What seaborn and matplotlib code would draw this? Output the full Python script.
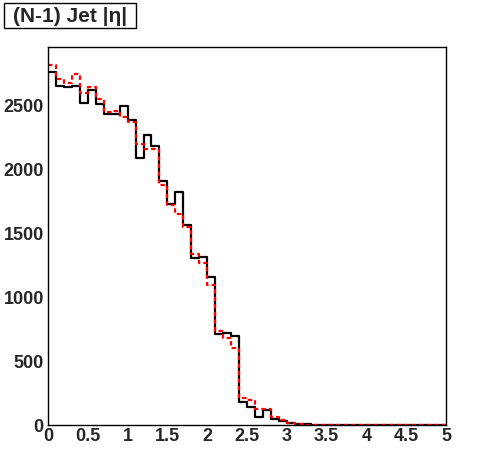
import numpy as np
import pandas as pd
import matplotlib
matplotlib.use("Agg")
import matplotlib.pyplot as plt
from matplotlib.patches import Rectangle
import seaborn as sns

# bin edges (0..5, width 0.1)
bin_edges = np.round(np.arange(0, 5.0001, 0.1), 2)
bin_centers = np.round((bin_edges[:-1] + bin_edges[1:]) / 2, 3)

# black histogram (solid)
black_vals = [2760, 2650, 2643, 2654, 2521, 2620, 2508, 2435, 2435, 2490,
              2385, 2085, 2268, 2182, 1907, 1725, 1818, 1560, 1307, 1313,
              1157, 715, 720, 697, 182, 138, 65, 117, 44, 31,
              18, 8, 4, 2, 1, 0, 0, 0, 0, 0,
              0, 0, 0, 0, 0, 0, 0, 0, 0, 0]
# red histogram (dashed)
red_vals = [2812, 2703, 2674, 2742, 2596, 2640, 2547, 2448, 2452, 2409,
            2368, 2193, 2155, 2156, 1875, 1719, 1653, 1545, 1333, 1263,
            1094, 737, 677, 605, 208, 195, 125, 123, 65, 39,
            13, 6, 3, 2, 1, 0, 0, 0, 0, 0,
            0, 0, 0, 0, 0, 0, 0, 0, 0, 0]

x_ticks = [0, 0.5, 1, 1.5, 2, 2.5, 3, 3.5, 4, 4.5, 5]
x_tick_labels = ["0", "0.5", "1", "1.5", "2", "2.5", "3", "3.5", "4", "4.5", "5"]
y_ticks = [0, 500, 1000, 1500, 2000, 2500]
y_tick_labels = ["0", "500", "1000", "1500", "2000", "2500"]
title_text = "(N-1) Jet |η|"

df_black = pd.DataFrame({"eta": bin_centers, "w": black_vals})
df_red = pd.DataFrame({"eta": bin_centers, "w": red_vals})

sns.set_style("white")
plt.rcParams["font.family"] = ["Liberation Sans", "DejaVu Sans"]
plt.rcParams["font.weight"] = "bold"

W, H = 496, 472
fig = plt.figure(figsize=(W / 100, H / 100), dpi=100)
ax = fig.add_axes([48 / W, 1 - 425 / H, (446 - 48) / W, (425 - 47) / H])

sns.histplot(data=df_black, x="eta", weights="w", binwidth=0.1, binrange=(0, 5),
             element="step", fill=False, color="black", linewidth=1.6, ax=ax)
sns.histplot(data=df_red, x="eta", weights="w", binwidth=0.1, binrange=(0, 5),
             element="step", fill=False, color="red", linewidth=1.6,
             linestyle=(0, (2, 1.4)), ax=ax)

ax.set_xlim(0, 5)
ax.set_ylim(0, 2955)
ax.set_xlabel("")
ax.set_ylabel("")
ax.set_xticks(x_ticks)
ax.set_xticklabels(x_tick_labels, fontsize=13, fontweight="bold")
ax.set_yticks(y_ticks)
ax.set_yticklabels(y_tick_labels, fontsize=13, fontweight="bold")
ax.set_xticks(np.arange(0, 5.0001, 0.1), minor=True)
ax.set_yticks(np.arange(0, 2901, 100), minor=True)
ax.tick_params(axis="both", which="major", direction="in", length=12, width=1,
               color="black", top=False, right=False)
ax.tick_params(axis="both", which="minor", direction="in", length=6, width=1,
               color="black", top=False, right=False)
ax.tick_params(axis="x", which="major", pad=2)
ax.tick_params(axis="y", which="major", pad=3)
for s in ax.spines.values():
    s.set_color("black")
    s.set_linewidth(1.0)

# title box
fig.patches.append(Rectangle((4 / W, 1 - 28 / H), (136 - 4) / W, (28 - 3) / H,
                             transform=fig.transFigure, facecolor="white",
                             edgecolor="black", linewidth=1.0))
fig.text(70 / W, 1 - 16 / H, title_text, ha="center", va="center",
         fontsize=15, fontweight="bold")

fig.savefig("out.png", dpi=100, facecolor="white")
